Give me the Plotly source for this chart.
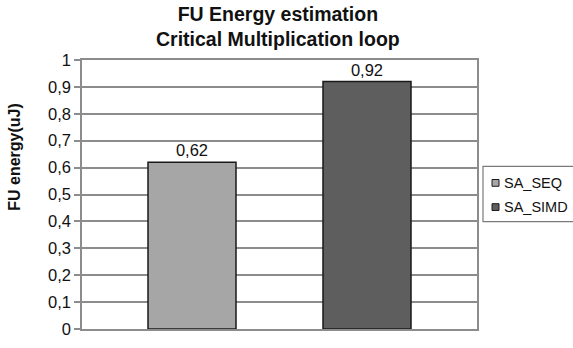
import plotly.graph_objects as go

# Data
series_names = ["SA_SEQ", "SA_SIMD"]
energy_uj = [0.62, 0.92]
bar_colors = ["#a6a6a6", "#5e5e5e"]

# Figure / plot-area geometry (pixels)
FIG_W, FIG_H = 573, 348
PLOT_L, PLOT_R = 82, 477
PLOT_T, PLOT_B = 60, 338
PW, PH = PLOT_R - PLOT_L, PLOT_B - PLOT_T


def px_x(x):
    return (x - PLOT_L) / PW


def px_y(y):
    return (PLOT_B - y) / PH


FONT = "Arial, Liberation Sans, sans-serif"

# Bars share one category slot; each sits at its own offset inside it
bar_width = 88 / PW
bar_offsets = [(148 - (PLOT_L + PW / 2)) / PW, (323 - (PLOT_L + PW / 2)) / PW]

fig = go.Figure()
for name, val, col, off in zip(series_names, energy_uj, bar_colors, bar_offsets):
    fig.add_trace(go.Bar(
        x=[0], y=[val], name=name,
        width=bar_width, offset=off,
        marker=dict(color=col, line=dict(color="#1a1a1a", width=1.5)),
        text=[val], texttemplate="%{y}", textposition="outside",
        textfont=dict(family=FONT, size=16.5, color="#111111"),
        cliponaxis=False, showlegend=False,
    ))

fig.update_layout(
    width=FIG_W, height=FIG_H,
    margin=dict(l=PLOT_L, r=FIG_W - PLOT_R, t=PLOT_T, b=FIG_H - PLOT_B, pad=0),
    paper_bgcolor="white", plot_bgcolor="white",
    barmode="overlay",
    separators=",.",
    font=dict(family=FONT, color="#111111"),
    xaxis=dict(range=[-0.5, 0.5], showticklabels=False, ticks="",
               showgrid=False, zeroline=False,
               showline=True, linecolor="#8c8c8c", linewidth=1.5, mirror=True),
    yaxis=dict(range=[0, 1], dtick=0.1, tick0=0,
               showgrid=True, gridcolor="#8c8c8c", gridwidth=1.5,
               zeroline=False,
               showline=True, linecolor="#8c8c8c", linewidth=1.5, mirror=True,
               ticks="outside", ticklen=6, tickcolor="#8c8c8c", tickwidth=1.5,
               tickfont=dict(family=FONT, size=16.5, color="#111111")),
)

# Chart title
fig.add_annotation(
    text="<b>FU Energy estimation<br>Critical Multiplication loop</b>",
    xref="paper", yref="paper", x=px_x(278), y=px_y(25),
    xanchor="center", yanchor="middle", showarrow=False,
    font=dict(family=FONT, size=19.5, color="#111111"),
)

# Y-axis title
fig.add_annotation(
    text="<b>FU energy(uJ)</b>",
    xref="paper", yref="paper", x=px_x(15), y=px_y(160),
    xanchor="center", yanchor="middle", textangle=-90, showarrow=False,
    font=dict(family=FONT, size=16, color="#111111"),
)

# Legend box with small square keys
LEG_L, LEG_T, LEG_B = 483, 170, 227
fig.add_shape(type="rect", xref="paper", yref="paper",
              x0=px_x(LEG_L), x1=px_x(600), y0=px_y(LEG_B), y1=px_y(LEG_T),
              line=dict(color="#7a7a7a", width=1.2), fillcolor="white")
for i, (name, col) in enumerate(zip(series_names, bar_colors)):
    cy = 187 + 25 * i
    fig.add_shape(type="rect", xref="paper", yref="paper",
                  x0=px_x(492), x1=px_x(499), y0=px_y(cy + 3.5), y1=px_y(cy - 3.5),
                  line=dict(color="#1a1a1a", width=1), fillcolor=col)
    fig.add_annotation(text=name, xref="paper", yref="paper",
                       x=px_x(502), y=px_y(cy), xanchor="left", yanchor="middle",
                       showarrow=False,
                       font=dict(family=FONT, size=14.5, color="#111111"))

fig.write_html("out.html")
